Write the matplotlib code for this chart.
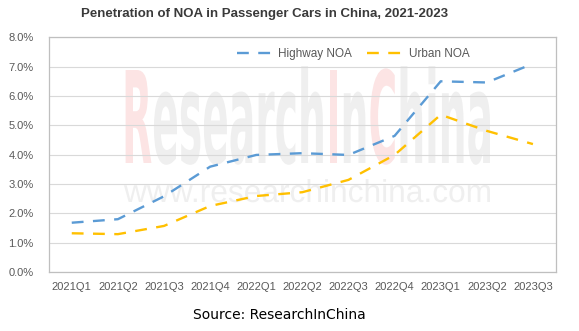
#plot.py


#COMMENT: Imports.

import matplotlib as mpl;
import matplotlib.pyplot as plt;
from matplotlib.font_manager import FontProperties;
from matplotlib.textpath import TextPath;
from matplotlib.patches import PathPatch;
from matplotlib.transforms import Affine2D, IdentityTransform;


#COMMENT: Chart data (penetration in %).

quarters = ["2021Q1", "2021Q2", "2021Q3", "2021Q4", "2022Q1", "2022Q2",
            "2022Q3", "2022Q4", "2023Q1", "2023Q2", "2023Q3"];
highwayNOA = [1.68, 1.80, 2.58, 3.59, 3.99, 4.05, 3.99, 4.64, 6.50, 6.46, 7.10];
urbanNOA = [1.32, 1.29, 1.57, 2.25, 2.59, 2.72, 3.14, 3.99, 5.36, 4.81, 4.36];
yTicks = [0, 1, 2, 3, 4, 5, 6, 7, 8];


#COMMENT: Defaults.

mpl.rc('font', **{ 'family' : 'sans-serif', 'sans-serif' : ['Liberation Sans', 'DejaVu Sans'] });

W, H = 579, 331;
fig = plt.figure(figsize = (W / 100.0, H / 100.0), dpi = 100);
ax = fig.add_axes([48.7 / W, 1 - 272.0 / H, (556.0 - 48.7) / W, (272.0 - 37.3) / H]);


#COMMENT: Watermark drawn in pixel coordinates behind the lines.

def watermark(parts, family, weight, x0, baseline, width, capHeight):
    prop = FontProperties(family = family, weight = weight);
    full = "".join(p[0] for p in parts);
    totalW = TextPath((0, 0), full, size = 100, prop = prop).get_extents().x1;
    capH = TextPath((0, 0), "R", size = 100, prop = prop).get_extents().y1;
    sx = width / totalW;
    sy = capHeight / capH if capHeight else sx;
    prefix = "";
    for text, color in parts:
        if prefix:
            offset = TextPath((0, 0), prefix + text, size = 100, prop = prop).get_extents().x1 - \
                     TextPath((0, 0), text, size = 100, prop = prop).get_extents().x1;
        else:
            offset = 0.0;
        path = TextPath((offset, 0), text, size = 100, prop = prop);
        tr = Affine2D().scale(sx, sy).translate(x0, H - baseline) + IdentityTransform();
        patch = PathPatch(path, facecolor = color, edgecolor = 'none', transform = tr, zorder = 0.4, clip_on = False);
        ax.add_artist(patch);
        prefix += text;

red, grey = "#FCE4E4", "#EFEFEF";
watermark([("R", red), ("esearch", grey), ("I", red), ("n", grey), ("C", red), ("hina", grey)],
          "Liberation Sans Narrow", "bold", 122, 163, 368, 93);
watermark([("www.researchinchina.com", grey)], "Liberation Sans", "normal", 124, 202, 366, None);


#COMMENT: Lines.

x = list(range(len(quarters)));
ax.plot(x, highwayNOA, color = "#5B9BD5", linewidth = 1.7, dashes = (5, 4), label = "Highway NOA", zorder = 3);
ax.plot(x, urbanNOA, color = "#FFC000", linewidth = 1.7, dashes = (5, 4), label = "Urban NOA", zorder = 3);


#COMMENT: Axes, ticks and grid.

ax.set_xlim(-0.5, len(quarters) - 0.5);
ax.set_ylim(0, 8);
ax.set_xticks(x);
ax.set_xticklabels(quarters);
ax.set_yticks(yTicks);
ax.set_yticklabels(["%.1f%%" % v for v in yTicks]);
ax.tick_params(axis = 'both', length = 0, labelsize = 8, labelcolor = "#595959");
ax.tick_params(axis = 'x', pad = 7);
ax.tick_params(axis = 'y', pad = 11);
ax.grid(axis = 'y', color = "#D9D9D9", linewidth = 0.8);
ax.set_axisbelow(True);

for spine in ax.spines.values():
    spine.set_color("#BFBFBF");
    spine.set_linewidth(0.9);


#COMMENT: Legend, title and source.

ax.legend(loc = 'upper center', bbox_to_anchor = (0.6, 1.0), ncol = 2, frameon = False,
          fontsize = 8.5, labelcolor = "#595959", handlelength = 3.2, columnspacing = 1.3, handletextpad = 0.3);

fig.text(265.0 / W, 1 - 14.0 / H, "Penetration of NOA in Passenger Cars in China, 2021-2023",
         ha = 'center', va = 'center', fontsize = 9.5, fontweight = 'bold', color = "#3A3A3A");
fig.text(279.0 / W, 1 - 315.0 / H, "Source: ResearchInChina", ha = 'center', va = 'center',
         fontsize = 10, family = 'DejaVu Sans', color = "#000000");

plt.savefig("out.png", dpi = 100);
plt.close();
